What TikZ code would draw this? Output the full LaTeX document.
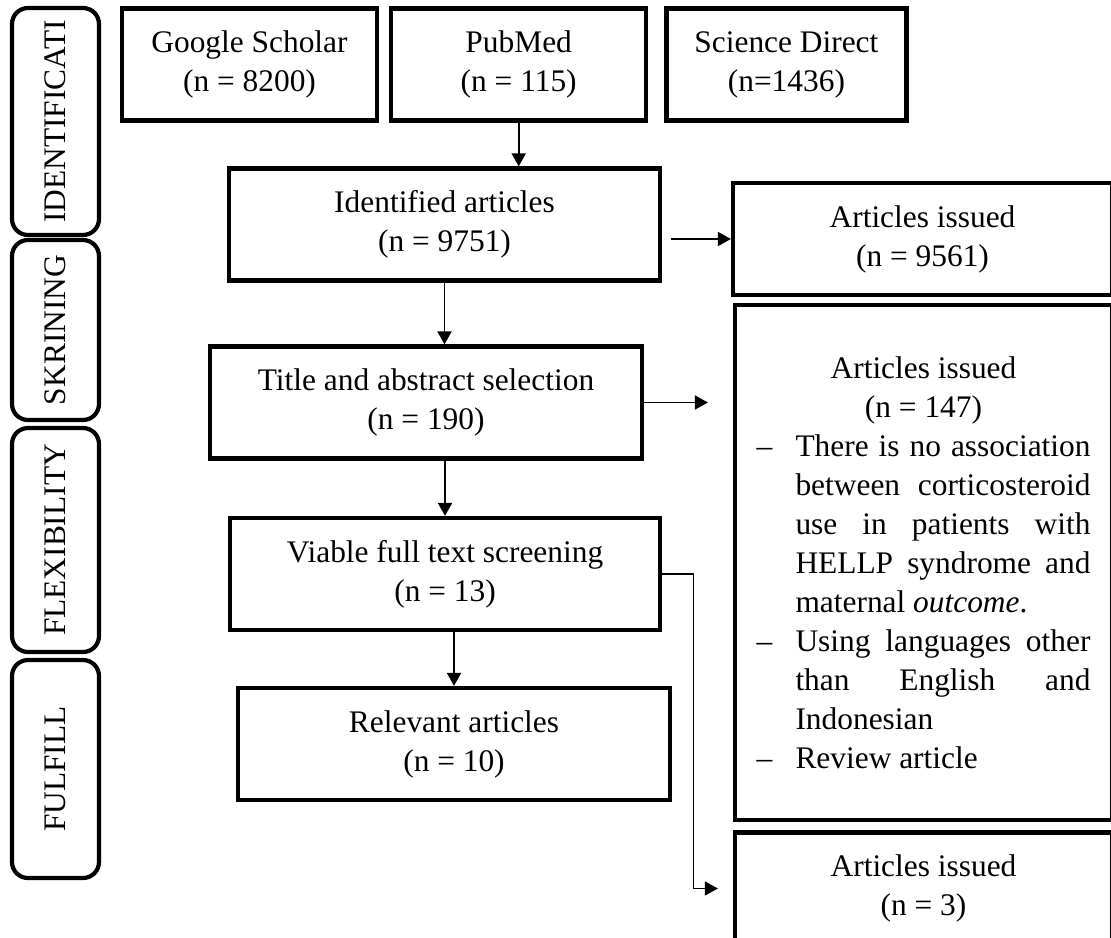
\documentclass[tikz,border=0pt]{standalone}
\usepackage{fontspec}
\setmainfont{Liberation Serif}
\usepackage{tikz}
\usetikzlibrary{positioning,arrows.meta}

\newcommand{\exitem}{\par\noindent\hangindent=19.5pt\hangafter=1\makebox[19.5pt][l]{--}}
\hbadness=10000

\begin{document}
\begin{tikzpicture}[x=0.5pt,y=-0.5pt,
every node/.style={font=\fontsize{15.7}{19.5}\selectfont},
box/.style={rectangle,draw,line width=2.1pt,align=center,inner sep=0pt,minimum height=56pt},
phase/.style={rectangle,rounded corners=8pt,draw,line width=2.1pt,rotate=90,inner sep=0pt,minimum height=43.5pt},
arrow/.style={-{Triangle[length=6.5pt,width=7pt]},line width=0.9pt},
thinarrow/.style={-{Triangle[length=6.5pt,width=7pt]},line width=0.6pt}]
\useasboundingbox (0,0) rectangle (1111,937);
% phases
\node[phase,minimum width=113.5pt](idn) at (55.5,121.5){IDENTIFICATI};
\node[phase,minimum width=90pt](skr) at (55.5,330){SKRINING};
\node[phase,minimum width=112pt](flx) at (55.5,540){FLEXIBILITY};
\node[phase,minimum width=109pt](ful) at (55.5,769){FULFILL};
% sources
\node[box,minimum width=127.5pt](gs) at (249.5,64.5){Google Scholar\\(n = 8200)};
\node[box,minimum width=127.5pt,right=5pt of gs](pm){PubMed\\(n = 115)};
\node[box,minimum width=120pt,right=8pt of pm](sd){Science Direct\\(n=1436)};
% main flow
\node[box,minimum width=215.5pt](ida) at (444.5,224.5){Identified articles\\(n = 9751)};
\node[box,minimum width=216pt](tas) at (426,402.5){Title and abstract selection\\(n = 190)};
\node[box,minimum width=215pt](vft) at (445,574){Viable full text screening\\(n = 13)};
\node[box,minimum width=216pt](rel) at (454,744){Relevant articles\\(n = 10)};
% excluded
\node[box,minimum width=189.5pt](ex1) at (922.5,239){Articles issued\\(n = 9561)};
\node[box,minimum width=188.5pt,minimum height=257.5pt,text width=167pt,align=justify](ex2) at (923.5,562.5){%
{\centering Articles issued\\(n = 147)\par}
\exitem There is no association\linebreak between corticosteroid\linebreak use in patients with\linebreak HELLP syndrome and\linebreak maternal \textit{outcome}.
\exitem Using languages other\linebreak than English and\linebreak Indonesian
\exitem Review article};
\node[box,minimum width=188.5pt](ex3) at (923.5,888.5){Articles issued\\(n = 3)};
\draw[arrow](pm.south)--(pm.south |- ida.north);
\draw[arrow]([xshift=4.5pt]ida.east |- ex1.west)--(ex1.west);
\draw[arrow](ida.south)--(ida.south |- tas.north);
\draw[arrow](tas.east)--([xshift=-12.5pt]tas.east -| ex2.west);
\draw[arrow](vft.north |- tas.south)--(vft.north);
\draw[arrow](rel.north |- vft.south)--(rel.north);
\draw[thinarrow](vft.east)--++(15.5pt,0)|-([xshift=-7.5pt]ex3.west);
\end{tikzpicture}
\end{document}
